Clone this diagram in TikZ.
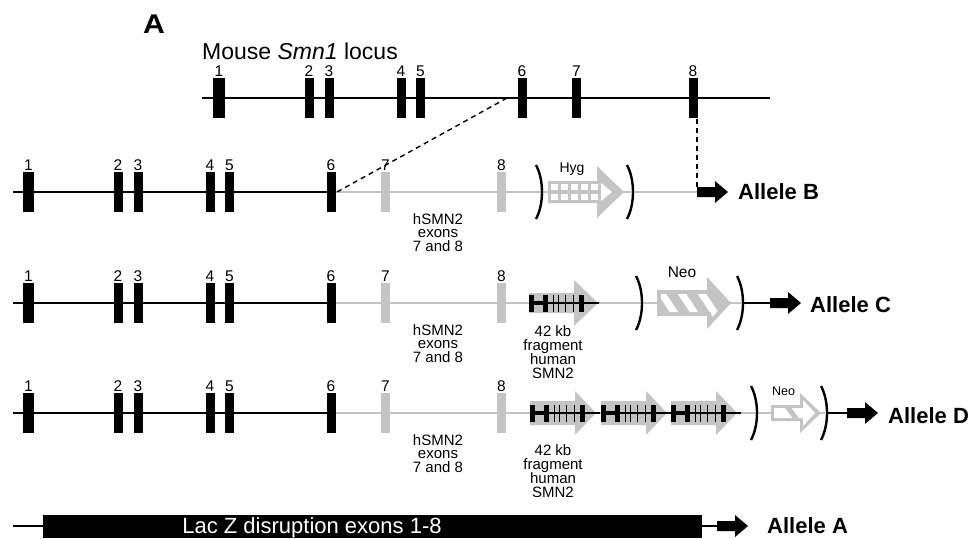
\documentclass[tikz,border=0pt]{standalone}
\usepackage{fontspec}
\setmainfont{Liberation Sans}
\usetikzlibrary{calc}

\definecolor{lightgrey}{RGB}{196,196,196}

\begin{document}
\begin{tikzpicture}[x=1pt, y=-1pt,
  dna/.style={line width=2.6pt, black},
  hdna/.style={line width=2pt, lightgrey},
  num/.style={anchor=base, inner sep=0pt, font=\fontsize{15.5}{15.5}\selectfont},
  note/.style={anchor=north, inner sep=0pt, align=center, font=\fontsize{15}{13.5}\selectfont},
  frag/.style={anchor=north, inner sep=0pt, align=center, font=\fontsize{15}{14}\selectfont},
  allele/.style={anchor=base west, inner sep=0pt, font=\fontsize{22}{22}\selectfont\bfseries},
  bracket/.style={line width=2.4pt, black},
  cut/.style={line width=1.4pt, dash pattern=on 5pt off 4pt}]

\useasboundingbox (0,0) rectangle (974,538);

% panel letter and title
\node[font=\fontsize{27}{27}\selectfont\bfseries, anchor=base west, inner sep=0pt, xscale=1.12] (panel) at (143,33) {A};
\node[font=\fontsize{23}{23}\selectfont, anchor=base west, inner sep=0pt] (title) at (202,59) {Mouse \textit{Smn1} locus};

% mouse locus
\draw[dna] (202,98) -- (770,98);
\foreach \x/\n/\w in {219/1/12, 309/2/9, 329/3/9, 401/4/9, 420.5/5/9, 522/6/9, 576.5/7/9, 693/8/9} {
  \fill[black] (\x-\w/2,78) rectangle (\x+\w/2,118);
  \node[num] (m\n) at (\x,76) {\n};
}

% alleles B, C, D
\foreach \r/\y/\e in {B/192/697, C/303/742, D/413/825} {
  \draw[hdna] (331,\y) -- (\e,\y);
  \draw[dna] (13,\y) -- (331,\y);
  \foreach \x/\n/\w in {28.5/1/11, 118/2/9, 138/3/9, 210/4/9, 229.5/5/9, 331/6/9} {
    \fill[black] (\x-\w/2,\y-20) rectangle (\x+\w/2,\y+20);
    \node[num] (\r\n) at (\x,\y-22) {\n};
  }
  \foreach \x/\n in {385.5/7, 501.5/8} {
    \fill[lightgrey] (\x-4.5,\y-20) rectangle (\x+4.5,\y+20);
    \node[num] (\r\n) at (\x,\y-22) {\n};
  }
  \node[note] (h\r) at (438,\y+21) {hSMN2\\exons\\7 and 8};
}

% cuts from the mouse locus
\coordinate (m6l) at (507,98);
\coordinate (cutB) at (337,192);
\draw[cut] (m6l) -- (cutB);
\coordinate (m8b) at (697,119);
\coordinate (arrB) at (697,187);
\draw[cut] (m8b) -- (arrB);

% brackets
\foreach \x/\y in {542/192, 633/192, 642/303, 743/303, 757/413, 827/413}
  \draw[bracket] (\x-6,\y-27) .. controls (\x+2,\y-12) and (\x+2,\y+12) .. (\x-6,\y+27);

% grey block arrows
\foreach \a/\h/\t/\b/\c/\y in {548/597/624/11/26/192, 529/574/598/10/23/303,
    657/707/731/13/26/303, 530/575/596/12/22/413, 601/646/667/12/22/413,
    671/716/737/12/22/413, 771/800/821/8/20/413}
  \fill[lightgrey] (\a,\y-\b) -- (\h,\y-\b) -- (\h,\y-\c) -- (\t,\y) -- (\h,\y+\c) -- (\h,\y+\b) -- (\a,\y+\b) -- cycle;

% Hyg
\foreach \i in {0,...,4} {
  \fill[white] (551+10*\i,184) rectangle (558+10*\i,190);
  \fill[white] (551+10*\i,194) rectangle (558+10*\i,200);
}
\fill[white] (601,183) -- (612,192) -- (601,201) -- cycle;
\node[num, font=\fontsize{14}{14}\selectfont] (hyg) at (572,172) {Hyg};

% Neo, allele C
\begin{scope}
  \clip (661,294) -- (711,294) -- (711,287) -- (724,303) -- (711,319) -- (711,312) -- (661,312) -- cycle;
  \foreach \s in {658,678,698} \draw[white, line width=7pt] (\s,288) -- (\s+20,318);
\end{scope}
\node[num] (neoC) at (682,277) {Neo};

% Neo, allele D
\fill[white] (774,408) -- (803,408) -- (803,400) -- (815,413) -- (803,426) -- (803,418) -- (774,418) -- cycle;
\begin{scope}
  \clip (774,408) -- (803,408) -- (803,400) -- (815,413) -- (803,426) -- (803,418) -- (774,418) -- cycle;
  \draw[lightgrey, line width=5pt] (784,402) -- (800,424);
\end{scope}
\node[num, font=\fontsize{12.5}{12.5}\selectfont] (neoD) at (783.5,395) {Neo};

% human SMN2 fragments
\foreach \a/\y in {529/303, 530/413, 601/413, 671/413} {
  \draw[line width=1.6pt] (\a,\y) -- (\a+70,\y);
  \draw[line width=3.5pt] (\a,\y) -- (\a+18,\y);
  \fill (\a,\y-8.5) rectangle (\a+5,\y+8.5);
  \fill (\a+14,\y-8.5) rectangle (\a+19,\y+8.5);
  \foreach \t in {24,29,36,44}
    \draw[line width=1pt] (\a+\t,\y-8.5) -- (\a+\t,\y+8.5);
  \fill (\a+50,\y-8.5) rectangle (\a+55,\y+8.5);
}
\node[frag] (fragC) at (553,325) {42 kb\\fragment\\human\\SMN2};
\node[frag] (fragD) at (553,444) {42 kb\\fragment\\human\\SMN2};

% allele A
\draw[dna] (13,526) -- (717,526);
\fill[black] (43,515) rectangle (702,538);
\node[font=\fontsize{22}{22}\selectfont, text=white, anchor=base, inner sep=0pt] (lacz) at (312,533) {Lac Z disruption exons 1-8};

% black tails to the allele arrows
\draw[dna] (743,303) -- (770,303);
\draw[dna] (827,413) -- (847,413);

% allele arrows and names
\foreach \x/\y in {697/192, 770/303, 847/413, 717/526}
  \fill[black] (\x,\y-5) -- (\x+18,\y-5) -- (\x+18,\y-11) -- (\x+31,\y) -- (\x+18,\y+11) -- (\x+18,\y+5) -- (\x,\y+5) -- cycle;
\node[allele] (alleleB) at (738,199) {Allele B};
\node[allele] (alleleC) at (810,312) {Allele C};
\node[allele] (alleleD) at (888,423) {Allele D};
\node[allele] (alleleA) at (767,533) {Allele A};

\end{tikzpicture}
\end{document}
